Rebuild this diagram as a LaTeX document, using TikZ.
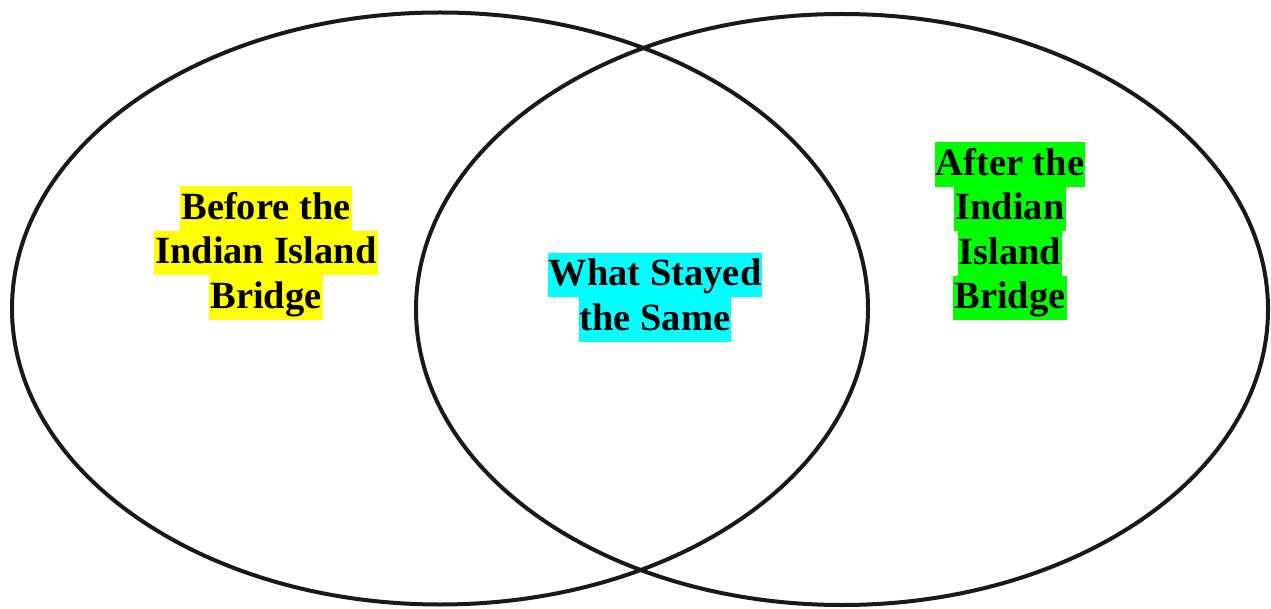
\documentclass[tikz,border=0pt]{standalone}
\usepackage{fontspec}
\setmainfont{Liberation Serif}
\begin{document}
\begin{tikzpicture}[x=1pt,y=-1pt,
  ring/.style={draw=black!90,line width=4pt},
  hl/.style={fill=#1,inner xsep=1pt,inner ysep=0pt,text height=33pt,text depth=11.5pt,
    font=\fontsize{38.5}{44}\selectfont\bfseries,text=black}]
\useasboundingbox (0,0) rectangle (1271,609);
\draw[ring] (440,308.5) ellipse [x radius=428,y radius=296];
\draw[ring] (842,309.5) ellipse [x radius=426,y radius=295.5];
\definecolor{hy}{RGB}{255,255,0}
\definecolor{hc}{RGB}{0,255,255}
\definecolor{hg}{RGB}{0,255,0}
\node[hl=hy] (b1) at (266,208.5) {Before the};
\node[hl=hy] (b2) at (266,253) {Indian Island};
\node[hl=hy] (b3) at (266,297.5) {Bridge};
\node[hl=hc] (s1) at (655,275) {What Stayed};
\node[hl=hc] (s2) at (655,319.5) {the Same};
\node[hl=hg] (a1) at (1010,164.5) {After the};
\node[hl=hg] (a2) at (1010,209) {Indian};
\node[hl=hg] (a3) at (1010,253.5) {Island};
\node[hl=hg] (a4) at (1010,298) {Bridge};
\end{tikzpicture}
\end{document}
